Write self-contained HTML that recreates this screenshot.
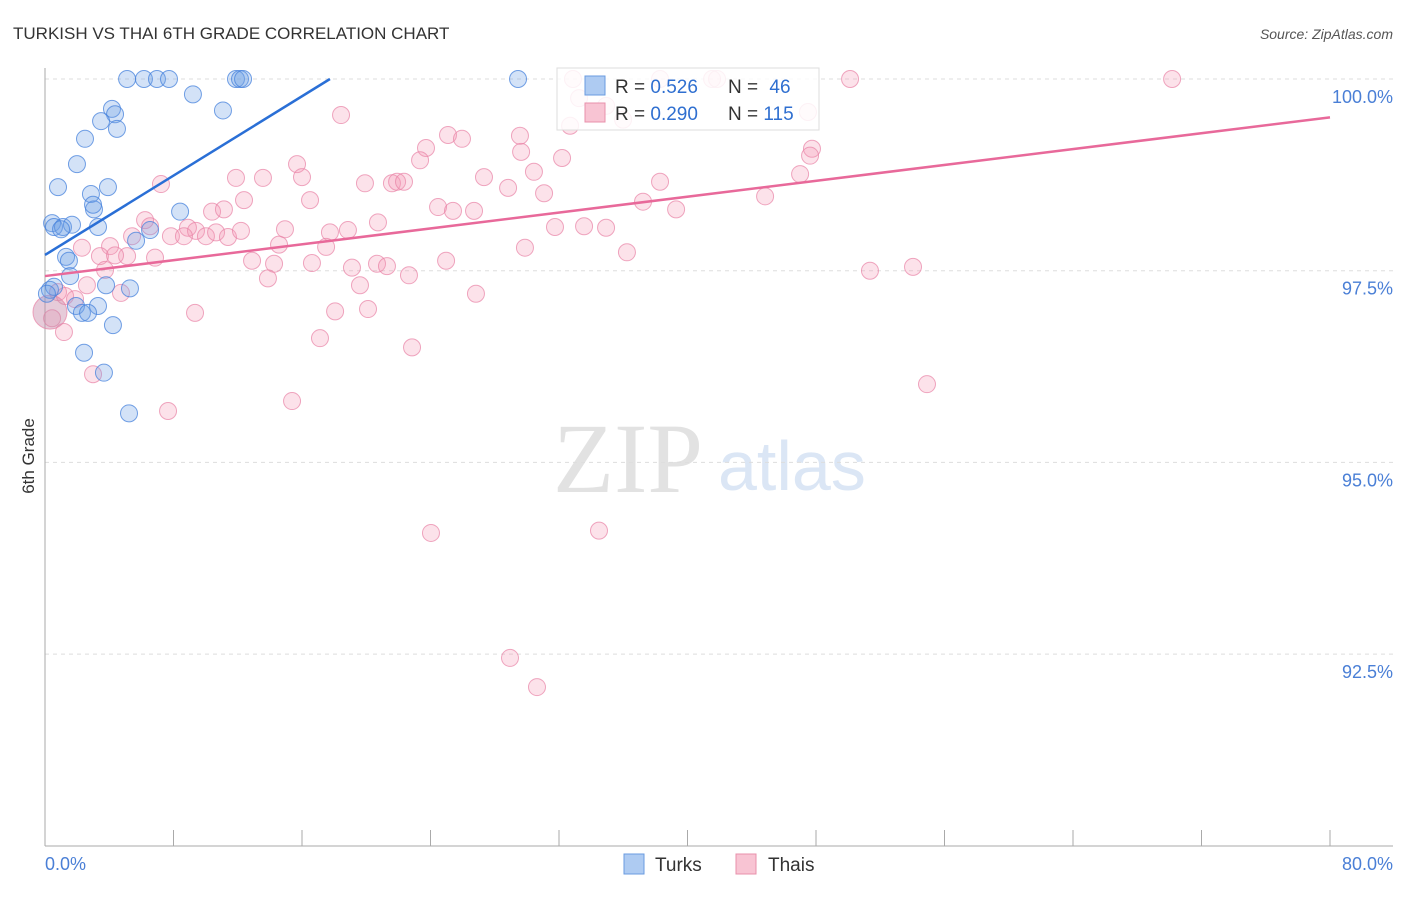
<!DOCTYPE html>
<html><head><meta charset="utf-8"><style>
body{margin:0;background:#fff;font-family:"Liberation Sans",sans-serif}
svg text{font-family:"Liberation Sans",sans-serif}
svg text.serif{font-family:"Liberation Serif",serif}
</style></head><body>
<svg id="c" width="1406" height="892" viewBox="0 0 1406 892" xmlns="http://www.w3.org/2000/svg">
<text x="13" y="39" font-size="17" fill="#333">TURKISH VS THAI 6TH GRADE CORRELATION CHART</text>
<text x="1393" y="39" font-size="14" fill="#555" font-style="italic" text-anchor="end">Source: ZipAtlas.com</text>
<g>
<text class="serif" x="553" y="492" font-size="100" fill="#e2e2e2">ZIP</text>
<text x="718" y="490" font-size="70" fill="#dbe6f5">atlas</text>
</g>
<g id="grid"></g><g id="axes"></g><g id="pts"></g><g id="lines"></g>
<text transform="translate(34,456) rotate(-90)" font-size="17" fill="#333" text-anchor="middle">6th Grade</text>
<g>
<rect x="557" y="68" width="262" height="62" fill="#fff" fill-opacity="0.85" stroke="#ddd"/>
<rect x="585" y="76" width="20" height="19" fill="#aecbf2" stroke="#6a9be0"/>
<rect x="585" y="103" width="20" height="19" fill="#f8c4d3" stroke="#e890ab"/>
<text x="615" y="93" font-size="19" fill="#333">R = <tspan fill="#2f6fd0">0.526</tspan></text>
<text x="728" y="93" font-size="19" fill="#333">N = <tspan fill="#2f6fd0" dx="6">46</tspan></text>
<text x="615" y="120" font-size="19" fill="#333">R = <tspan fill="#2f6fd0">0.290</tspan></text>
<text x="728" y="120" font-size="19" fill="#333">N = <tspan fill="#2f6fd0">115</tspan></text>
</g>
<g><rect x="624" y="854" width="20" height="20" fill="#aecbf2" stroke="#6a9be0"/><text x="655" y="871" font-size="19" fill="#333">Turks</text></g>
<g><rect x="736" y="854" width="20" height="20" fill="#f8c4d3" stroke="#e890ab"/><text x="768" y="871" font-size="19" fill="#333">Thais</text></g>
</svg>
<script>
const yTicks=[100,97.5,95,92.5];
const yTickLabels=["100.0%","97.5%","95.0%","92.5%"];
const xTickLabels=["0.0%","80.0%"];
const turksX=[5.11,6.16,6.97,7.72,11.89,12.14,12.33,29.45,9.21,11.08,4.17,4.36,3.49,4.48,2.49,1.99,0.81,3.92,2.86,3.05,2.99,8.41,0.44,0.56,1.12,1.68,1.00,3.30,6.54,5.67,1.31,1.49,1.56,5.29,3.80,0.31,0.56,0.12,1.93,3.30,2.30,2.68,4.23,2.43,3.67,5.23];
const turksY=[100,100,100,100,100,100,100,100,99.80,99.59,99.61,99.54,99.45,99.35,99.22,98.89,98.59,98.59,98.50,98.30,98.36,98.27,98.12,98.07,98.07,98.10,98.04,98.07,98.03,97.89,97.68,97.63,97.43,97.27,97.31,97.25,97.29,97.20,97.04,97.04,96.95,96.95,96.79,96.43,96.17,95.64];
const thaisX=[18.43,25.09,25.96,23.72,29.64,32.19,15.69,23.35,47.75,47.63,30.44,27.33,16.00,11.89,13.57,7.22,19.92,21.60,21.92,22.35,28.83,38.29,31.07,12.39,16.50,44.83,24.47,25.40,26.71,37.23,39.29,10.40,11.14,6.23,6.54,20.73,14.94,17.74,18.86,31.75,33.56,34.93,8.90,9.40,7.84,8.65,10.02,10.65,11.39,12.20,5.42,4.05,14.57,17.50,29.88,36.23,2.30,3.42,5.11,6.85,4.36,12.89,14.26,16.62,19.11,20.67,21.29,24.97,51.36,54.04,3.74,13.88,22.66,19.61,4.73,2.61,0.81,1.25,1.87,26.83,9.34,18.06,20.11,17.12,22.85,1.18,0.44,0.31,2.99,15.38,7.66,54.91,24.03,34.49,28.95,30.63,50.12,70.17,32.87,38.29,41.53,41.84,33.25,34.93,32.69,35.99,47.50,47.01,29.57];
const thaisY=[99.53,99.27,99.22,99.10,99.05,98.97,98.89,98.94,99.09,99.00,98.79,98.72,98.72,98.71,98.71,98.63,98.64,98.64,98.66,98.66,98.58,98.66,98.51,98.42,98.42,98.47,98.33,98.28,98.28,98.40,98.30,98.27,98.30,98.16,98.08,98.13,98.04,98.00,98.03,98.07,98.08,98.06,98.06,98.02,97.95,97.95,97.95,98.00,97.94,98.02,97.95,97.82,97.84,97.81,97.80,97.74,97.80,97.69,97.69,97.67,97.70,97.63,97.59,97.60,97.54,97.59,97.56,97.63,97.50,97.55,97.51,97.40,97.44,97.31,97.21,97.31,97.22,97.17,97.13,97.20,96.95,96.97,97.00,96.62,96.50,96.70,96.88,96.96,96.15,95.80,95.67,96.02,94.08,94.11,92.45,92.07,100,100,100,100,100,100,99.75,99.65,99.39,99.47,99.57,98.76,99.26];
const turksLine=[97.705,100];
const turksLineX=[0,17.74];
const thaisLine=[97.43,99.50];
const thaisLineX=[0,80];
const NS="http://www.w3.org/2000/svg";
const X=v=>45+v/80*1285, Y=v=>79+(100-v)*76.68;
function mk(t,a,p){const e=document.createElementNS(NS,t);for(const k in a)e.setAttribute(k,a[k]);document.getElementById(p).appendChild(e);return e;}
yTicks.forEach((t,i)=>{
  const g=mk('line',{x1:45,x2:1393,y1:Y(t),y2:Y(t),stroke:'#ddd','stroke-dasharray':'4,4'},'grid');
  
  
  const l=mk('text',{x:1393,y:Y(t)+24,'font-size':18,fill:'#4a7fd6','text-anchor':'end'},'axes');
  l.textContent=yTickLabels[i];
  
  
});
const ax=mk('line',{x1:45,x2:45,y1:68,y2:846,stroke:'#aaa'},'axes');


const bx=mk('line',{x1:45,x2:1393,y1:846,y2:846,stroke:'#aaa'},'axes');


for(let i=0;i<=10;i++){const t=mk('line',{x1:X(i*8),x2:X(i*8),y1:830,y2:846,stroke:'#aaa'},'axes');

}
[[0,'start',45],[1,'end',1393]].forEach(([i,a,x])=>{const t=mk('text',{x:x,y:870,'font-size':18,fill:'#4a7fd6','text-anchor':a},'axes');t.textContent=xTickLabels[i];

});
thaisX.forEach((v,i)=>{const big=(i==87);const c=mk('circle',{cx:X(v),cy:Y(thaisY[i]),r:big?17:8.5,fill:big?'rgba(200,140,170,0.45)':'rgba(244,150,180,0.28)',stroke:'rgba(232,130,165,0.7)'},'pts');

});
turksX.forEach((v,i)=>{const c=mk('circle',{cx:X(v),cy:Y(turksY[i]),r:8.5,fill:'rgba(110,160,230,0.3)',stroke:'rgba(70,130,220,0.75)'},'pts');

});
const lb=mk('line',{x1:X(turksLineX[0]),y1:Y(turksLine[0]),x2:X(turksLineX[1]),y2:Y(turksLine[1]),stroke:'#2a6fd6','stroke-width':2.5},'lines');


const lp=mk('line',{x1:X(thaisLineX[0]),y1:Y(thaisLine[0]),x2:X(thaisLineX[1]),y2:Y(thaisLine[1]),stroke:'#e8699a','stroke-width':2.5},'lines');


</script>
</body></html>
